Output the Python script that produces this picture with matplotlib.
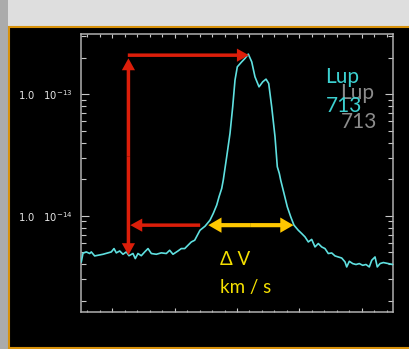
import numpy as np
import matplotlib
matplotlib.use("Agg")
import matplotlib.pyplot as plt
from matplotlib.patches import Rectangle, FancyArrowPatch
from matplotlib.ticker import FixedLocator, FixedFormatter, LogLocator, NullFormatter, MultipleLocator

# ---- data (velocity km/s, flux in units of 1e-15) ----
velocity = [-249.5, -246.8, -241.5, -236.1, -233.5, -228.1, -222.8, -214.7, -206.7, -201.4,
            -197.1, -193.4, -188.0, -182.7, -177.4, -173.1, -166.7, -163.0, -158.7, -153.4,
            -147.9, -142.6, -137.3, -129.3, -121.3, -113.3, -107.9, -102.6, -94.6, -89.3,
            -83.8, -78.5, -73.2, -67.8, -59.3, -51.3, -43.3, -38.0, -32.5, -28.8,
            -24.5, -22.0, -16.5, -11.2, -6.9, -3.2, 0.5, 7.5, 12.8, 18.1,
            23.6, 28.8, 35.3, 41.2, 46.5, 50.8, 55.6, 60.9, 64.6, 67.8,
            70.0, 75.3, 80.6, 86.1, 91.3, 98.2, 103.7, 109.0, 114.3, 119.7,
            125.0, 130.3, 135.7, 141.0, 146.3, 151.8, 157.1, 162.3, 167.8, 173.1,
            175.8, 180.0, 185.4, 190.7, 196.0, 201.5, 206.7, 212.0, 215.9, 221.2,
            224.8, 229.2, 234.5, 242.5, 249.5]
flux_e15 = [4.18, 4.93, 5.05, 4.90, 5.05, 4.68, 4.74, 4.83, 4.96, 5.05,
            5.38, 4.96, 5.14, 4.83, 5.05, 4.70, 4.90, 4.45, 4.90, 4.70,
            5.05, 5.38, 4.90, 4.83, 4.96, 4.90, 5.21, 4.83, 5.14, 5.38,
            5.38, 5.73, 6.10, 6.30, 7.61, 8.21, 9.2, 10.47, 12.25, 14.33,
            16.79, 19.66, 30.6, 47.6, 78.6, 130.4, 167.7, 184.2, 196.6, 213.3,
            184.2, 138.8, 114.8, 126.2, 132.8, 122.4, 78.6, 44.7, 25.3, 22.3,
            19.66, 15.28, 11.86, 9.81, 8.38, 7.61, 7.15, 6.71, 6.10, 6.40,
            5.55, 5.92, 5.55, 5.38, 4.90, 4.95, 4.68, 4.59, 4.50, 4.18,
            3.80, 4.23, 4.05, 3.98, 4.05, 3.92, 3.98, 3.80, 4.31, 4.59,
            3.80, 4.05, 4.13, 4.05, 3.98]

ytick_values = [1e-14, 1e-13]
ytick_labels = [r"1.0   $10^{-14}$", r"1.0   $10^{-13}$"]

# annotation anchors (data coords)
v_left_edge = -174.0
v_peak = 19.0
f_peak_line = 2.09e-13
f_top_tip = 1.97e-13
f_bottom_tip = 4.75e-15
f_width_level = 8.38e-15
v_red_low_start = -59.0
v_red_low_tip = -171.0
v_dv_left = -46.0
v_dv_right = 90.5

W, H = 409, 349
fig = plt.figure(figsize=(W / 100, H / 100), dpi=100, facecolor="#dedede")

def fx(px):
    return px / W

def fy(py):
    return 1 - py / H

# slide decorations
fig.patches.append(Rectangle((0, 0), fx(8), 1, transform=fig.transFigure,
                             facecolor="#ababab", edgecolor="none", zorder=0))
fig.patches.append(Rectangle((fx(9), fy(347.6)), 1.0, fy(26.8) - fy(347.6),
                             transform=fig.transFigure, facecolor="black",
                             edgecolor="#d8920c", linewidth=1.5, zorder=1))

ax = fig.add_axes([fx(81), fy(312), fx(393) - fx(81), fy(33.5) - fy(312)])
ax.set_facecolor("black")
ax.set_zorder(2)

v = np.array(velocity)
f = np.array(flux_e15) * 1e-15
ax.plot(v, f, color="#5fe0e0", lw=1.2, zorder=3)

ax.set_yscale("log")
ax.set_xlim(-250, 250)
ax.set_ylim(1.62e-15, 3.15e-13)

ax.xaxis.set_major_locator(MultipleLocator(100))
ax.xaxis.set_minor_locator(MultipleLocator(20))
ax.xaxis.set_major_formatter(NullFormatter())
ax.yaxis.set_major_locator(FixedLocator(ytick_values))
ax.yaxis.set_major_formatter(FixedFormatter(ytick_labels))
ax.yaxis.set_minor_locator(LogLocator(base=10, subs=np.arange(2, 10)))
ax.yaxis.set_minor_formatter(NullFormatter())

tc = "#c8c8c8"
ax.tick_params(axis="y", which="major", direction="in", length=5.8, width=0.8,
               color=tc, left=True, right=True, labelsize=7.2, labelcolor="#e6e6e6", pad=5.8)
ax.tick_params(axis="y", which="minor", direction="in", length=3.4, width=0.8,
               color=tc, left=True, right=True)
ax.tick_params(axis="x", which="major", direction="in", length=3.2, width=0.8,
               color=tc, top=True, bottom=True, labelbottom=False)
ax.tick_params(axis="x", which="minor", direction="in", length=1.8, width=0.8,
               color=tc, top=True, bottom=True)
for s in ax.spines.values():
    s.set_color("#b0b0b0")
    s.set_linewidth(1.1)

red = "#dc1e0a"
gold = "#ffc800"

def arrow(x0, y0, x1, y1, color, tw, hw, hl):
    p = FancyArrowPatch((x0, y0), (x1, y1),
                        arrowstyle=f"simple,head_length={hl},head_width={hw},tail_width={tw}",
                        mutation_scale=1, color=color, lw=0, shrinkA=0, shrinkB=0, zorder=5)
    ax.add_patch(p)

# vertical red double arrow
ymid = np.sqrt(f_top_tip * f_bottom_tip)
arrow(v_left_edge, ymid, v_left_edge, f_top_tip, red, 2.5, 9.5, 8.6)
arrow(v_left_edge, ymid, v_left_edge, f_bottom_tip, red, 2.5, 9.5, 8.6)
# top horizontal red arrow
arrow(v_left_edge - 1, f_peak_line, v_peak, f_peak_line, red, 2.5, 9.5, 8.6)
# lower horizontal red arrow
arrow(v_red_low_start, f_width_level, v_red_low_tip, f_width_level, red, 2.5, 9.5, 8.6)
# yellow double arrow
vm = 0.5 * (v_dv_left + v_dv_right)
arrow(vm, f_width_level, v_dv_left, f_width_level, gold, 3.0, 11.0, 9.5)
arrow(vm, f_width_level, v_dv_right, f_width_level, gold, 3.0, 11.0, 9.5)

# texts
tf = ["Lato", "DejaVu Sans"]
fig.text(fx(340.5), fy(99.3), "Lup", color="#8c8c8c", fontsize=15, family=tf, va="baseline", zorder=6)
fig.text(fx(340.5), fy(128.3), "713", color="#8c8c8c", fontsize=15, family=tf, va="baseline", zorder=6)
fig.text(fx(325.5), fy(83.3), "Lup", color="#3cd0d0", fontsize=15, family=tf, va="baseline", zorder=7)
fig.text(fx(325.5), fy(111.7), "713", color="#3cd0d0", fontsize=15, family=tf, va="baseline", zorder=7)
fig.text(fx(219.5), fy(265), "Δ V", color="#f5e000", fontsize=13.5, family=tf, va="baseline", zorder=7)
fig.text(fx(219.5), fy(293.3), "km / s", color="#f5e000", fontsize=13.5, family=tf, va="baseline", zorder=7)

fig.savefig("out.png", dpi=100, facecolor=fig.get_facecolor())
